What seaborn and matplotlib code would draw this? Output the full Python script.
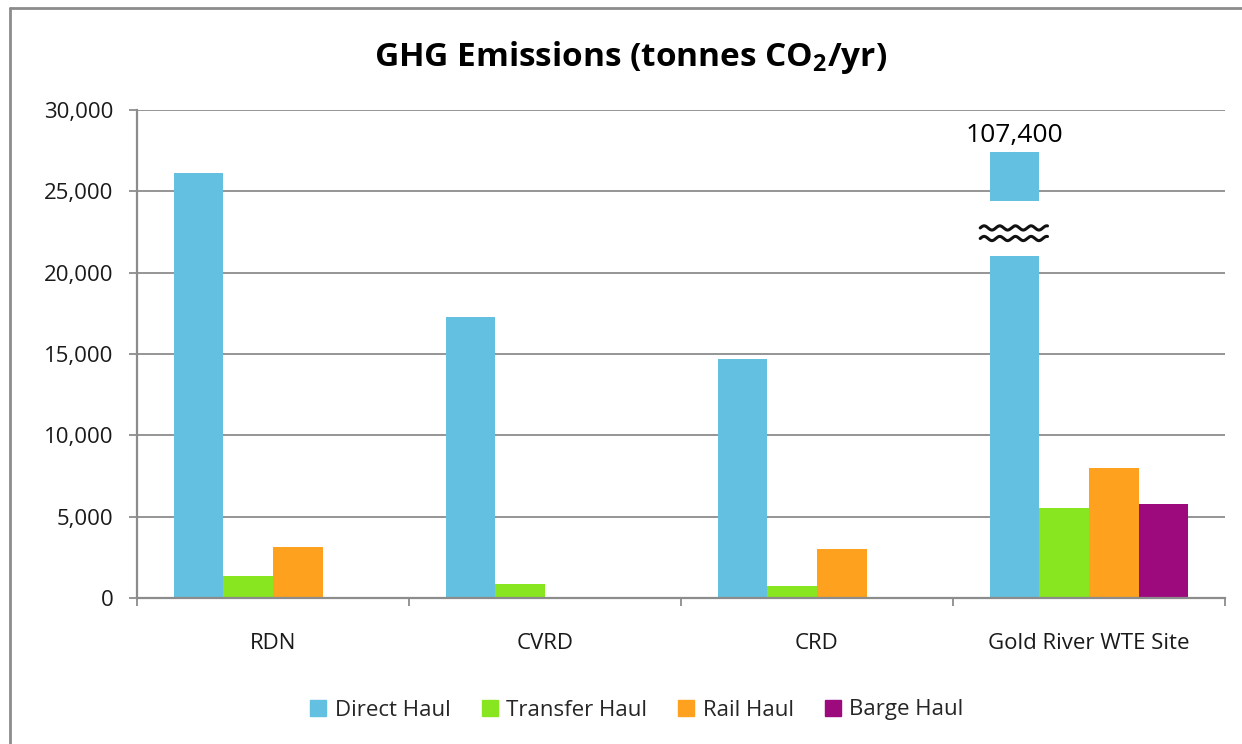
import numpy as np
import pandas as pd
import matplotlib
matplotlib.use("Agg")
import matplotlib.pyplot as plt
from matplotlib.patches import Rectangle
from matplotlib.lines import Line2D
from matplotlib.ticker import FuncFormatter, FixedLocator
import seaborn as sns

# ---- data -------------------------------------------------------------
sites = ["RDN", "CVRD", "CRD", "Gold River WTE Site"]
direct_haul = [26100, 17250, 14700, 107400]
transfer_haul = [1350, 850, 750, 5550]
rail_haul = [3150, 0, 3000, 8000]
barge_haul = [0, 0, 0, 5800]
modes = ["Direct Haul", "Transfer Haul", "Rail Haul", "Barge Haul"]
colors = ["#63C0E0", "#87E620", "#FDA11E", "#9C0A7E"]
y_ticks = [0, 5000, 10000, 15000, 20000, 25000, 30000]

# axis break used for the off-scale bar
BREAK_LOW, BREAK_HIGH, BREAK_SHOWN_TOP = 21000, 24400, 27400

df = pd.DataFrame({
    "site": sites * 4,
    "mode": np.repeat(modes, len(sites)),
    "value": direct_haul + transfer_haul + rail_haul + barge_haul,
})

sns.set_theme(style="white")
plt.rcParams["font.family"] = ["Open Sans", "DejaVu Sans"]
plt.rcParams["mathtext.fontset"] = "custom"
plt.rcParams["mathtext.rm"] = "Open Sans:bold"

fig = plt.figure(figsize=(12.42, 7.44), dpi=100)
ax = fig.add_axes([137 / 1242, 1 - 598 / 744, (1225 - 137) / 1242, (598 - 110) / 744])

sns.barplot(data=df, x="site", y="value", hue="mode", order=sites,
            hue_order=modes, palette=colors, saturation=1, width=0.73,
            linewidth=0, errorbar=None, ax=ax, zorder=3)

ax.set_ylim(0, 30000)
ax.set_xlim(-0.5, len(sites) - 0.5)
ax.yaxis.set_major_locator(FixedLocator(y_ticks))
ax.yaxis.set_major_formatter(FuncFormatter(lambda v, _: f"{v:,.0f}"))
ax.grid(axis="y", color="#8C8C8C", linewidth=1.3, zorder=0)
ax.set_axisbelow(True)
ax.set_xlabel("")
ax.set_ylabel("")

for side in ["top", "right"]:
    ax.spines[side].set_visible(False)
for side in ["left", "bottom"]:
    ax.spines[side].set_color("#8C8C8C")
    ax.spines[side].set_linewidth(1.6)
    ax.spines[side].set_zorder(4)

ax.tick_params(axis="y", which="major", length=6, width=1.3, color="#8C8C8C",
               pad=11, labelsize=16, labelcolor="#1a1a1a", left=True)
ax.set_xticks(np.arange(-0.5, len(sites)), minor=True)
ax.tick_params(axis="x", which="minor", length=6, width=1.3, color="#8C8C8C",
               bottom=True, direction="out")
ax.tick_params(axis="x", which="major", length=0, pad=25, labelsize=16,
               labelcolor="#1a1a1a")

# broken bar for the off-scale value
big_bar = ax.containers[0][3]
bx, bw = big_bar.get_x(), big_bar.get_width()
big_bar.set_clip_path(Rectangle((bx, 0), bw, BREAK_SHOWN_TOP, transform=ax.transData))
ax.add_patch(Rectangle((bx, BREAK_LOW), bw, BREAK_HIGH - BREAK_LOW,
                       facecolor="white", edgecolor="none", zorder=5))
wx = np.linspace(bx - 0.035, bx + bw + 0.03, 200)
phase = (wx - wx[0]) / (wx[-1] - wx[0]) * 2 * np.pi * 4.3
for base in (22750, 22100):
    ax.plot(wx, base + 130 * np.sin(phase), color="#111111", lw=2.2,
            zorder=6, solid_capstyle="round", clip_on=False)
ax.text(bx + bw / 2, 28450, f"{direct_haul[3]:,.0f}", ha="center", va="center",
        fontsize=19, color="black", zorder=7)

# legend
ax.legend_.remove()
handles = [Line2D([], [], marker="s", linestyle="none", markersize=12,
                  markerfacecolor=c, markeredgecolor=c) for c in colors]
fig.legend(handles, modes, loc="center", bbox_to_anchor=(636 / 1242, 1 - 710 / 744),
           ncol=4, frameon=False, fontsize=16, handletextpad=0.3,
           columnspacing=1.3, handlelength=0.9)

# title
fig.text(631 / 1242, 1 - 58 / 744, r"GHG Emissions (tonnes CO$_\mathrm{2}$/yr)",
         ha="center", va="center", fontsize=24, fontweight="bold", color="black")

# chart frame
fig.add_artist(Line2D([9.5 / 1242, 9.5 / 1242], [0, 1 - 8 / 744],
                      transform=fig.transFigure, color="#8C8C8C", lw=2))
fig.add_artist(Line2D([9.5 / 1242, 1], [1 - 8 / 744, 1 - 8 / 744],
                      transform=fig.transFigure, color="#8C8C8C", lw=2))

fig.savefig("out.png", dpi=100, facecolor="white")
